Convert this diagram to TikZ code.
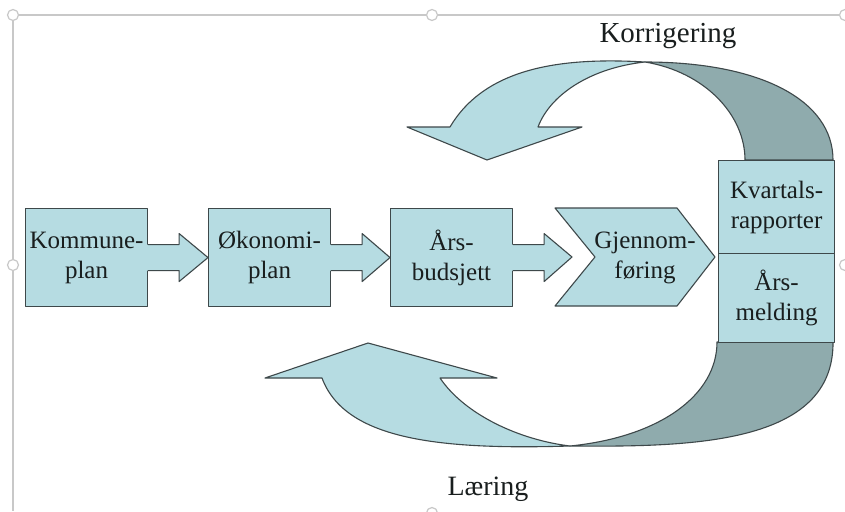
\documentclass[tikz,border=0pt]{standalone}
\usepackage{fontspec}
\setmainfont{Liberation Serif}
\usetikzlibrary{calc}
\definecolor{boxC}{RGB}{182,220,226}
\definecolor{darkC}{RGB}{143,171,173}
\definecolor{lineC}{RGB}{62,72,74}
\definecolor{txtC}{RGB}{25,30,30}
\definecolor{frameC}{RGB}{200,200,200}
\begin{document}
\begin{tikzpicture}[x=1pt,y=-1pt,
  outl/.style={draw=lineC, line width=1.1pt, line join=round},
  box/.style={outl, fill=boxC, minimum width=122pt, minimum height=98pt, inner sep=0pt, align=center, text=txtC, font=\fontsize{25}{30}\selectfont},
  boxtxt/.style={inner sep=0pt, align=center, text=txtC, font=\fontsize{25}{30}\selectfont},
  lbl/.style={text=txtC, inner sep=0pt, anchor=base, font=\fontsize{29}{32}\selectfont},
  handle/.style={draw=frameC, fill=white, line width=1.2pt}]
\useasboundingbox (0,0) rectangle (845,511);
\clip (0,0) rectangle (845,511);
\fill[white] (0,0) rectangle (845,511);
% selection frame
\draw[frameC, line width=1.5pt] (13,15) -- (845,15);
\draw[frameC, line width=1.5pt] (13,15) -- (13,511);
\foreach \p in {(13,15),(432,15),(845,15),(13,265),(845,265),(432,513)}
  \draw[handle] \p circle (5.5pt);
% labels
\node[lbl] (kor) at (668,43) {Korrigering};
\node[lbl, font=\fontsize{28}{32}\selectfont] (lae) at (488,495) {Læring};
% top curved arrow
\filldraw[outl, fill=boxC] (645,62) .. controls (560,57) and (485,68) .. (450,127) -- (407,127) -- (487,160) -- (582,127) -- (538,127) .. controls (550,95) and (590,68) .. (645,62) -- cycle;
\filldraw[outl, fill=darkC] (645,62) .. controls (760,62) and (833,100) .. (833,160) -- (745,160) .. controls (745,115) and (705,72) .. (645,62) -- cycle;
% bottom curved arrow
\filldraw[outl, fill=boxC] (570,446) .. controls (440,450) and (345,440) .. (322,378) -- (265,378) -- (368,343) -- (497,378) -- (440,378) .. controls (465,415) and (520,440) .. (570,446) -- cycle;
\filldraw[outl, fill=darkC] (833,342) .. controls (834,445) and (690,447) .. (570,446) .. controls (660,437) and (717,395) .. (717,342) -- cycle;
% boxes
\node[box, anchor=north west] (k) at (25,208) {Kommune-\\plan};
\node[box, anchor=north west] (o) at (208,208) {Økonomi-\\plan};
\node[box, anchor=north west] (a) at (390,208) {Års-\\budsjett};
\node[box, anchor=north west, minimum width=116pt, minimum height=93pt] (kv) at (718,160) {Kvartals-\\rapporter};
\node[box, anchor=north west, minimum width=116pt, minimum height=89pt] (am) at (718,253) {Års-\\melding};
% chevron
\filldraw[outl, fill=boxC] (555,208) -- (677,208) -- (715,257) -- (677,306) -- (555,306) -- (595,257) -- cycle;
\node[boxtxt] (g) at (645,258) {Gjennom-\\føring};
\coordinate (tip3) at (572,257);
% block arrows
\foreach \s/\t in {k.east/o.west, o.east/a.west, a.east/tip3} {
  \fill[boxC] ($(\s)+(-1,-13)$) -- ($(\s)+(31,-13)$) -- ($(\s)+(31,-24)$) -- (\t) -- ($(\s)+(31,24)$) -- ($(\s)+(31,13)$) -- ($(\s)+(-1,13)$) -- cycle;
  \draw[outl] ($(\s)+(0,-13)$) -- ($(\s)+(31,-13)$) -- ($(\s)+(31,-24)$) -- (\t) -- ($(\s)+(31,24)$) -- ($(\s)+(31,13)$) -- ($(\s)+(0,13)$);
}
\end{tikzpicture}
\end{document}
